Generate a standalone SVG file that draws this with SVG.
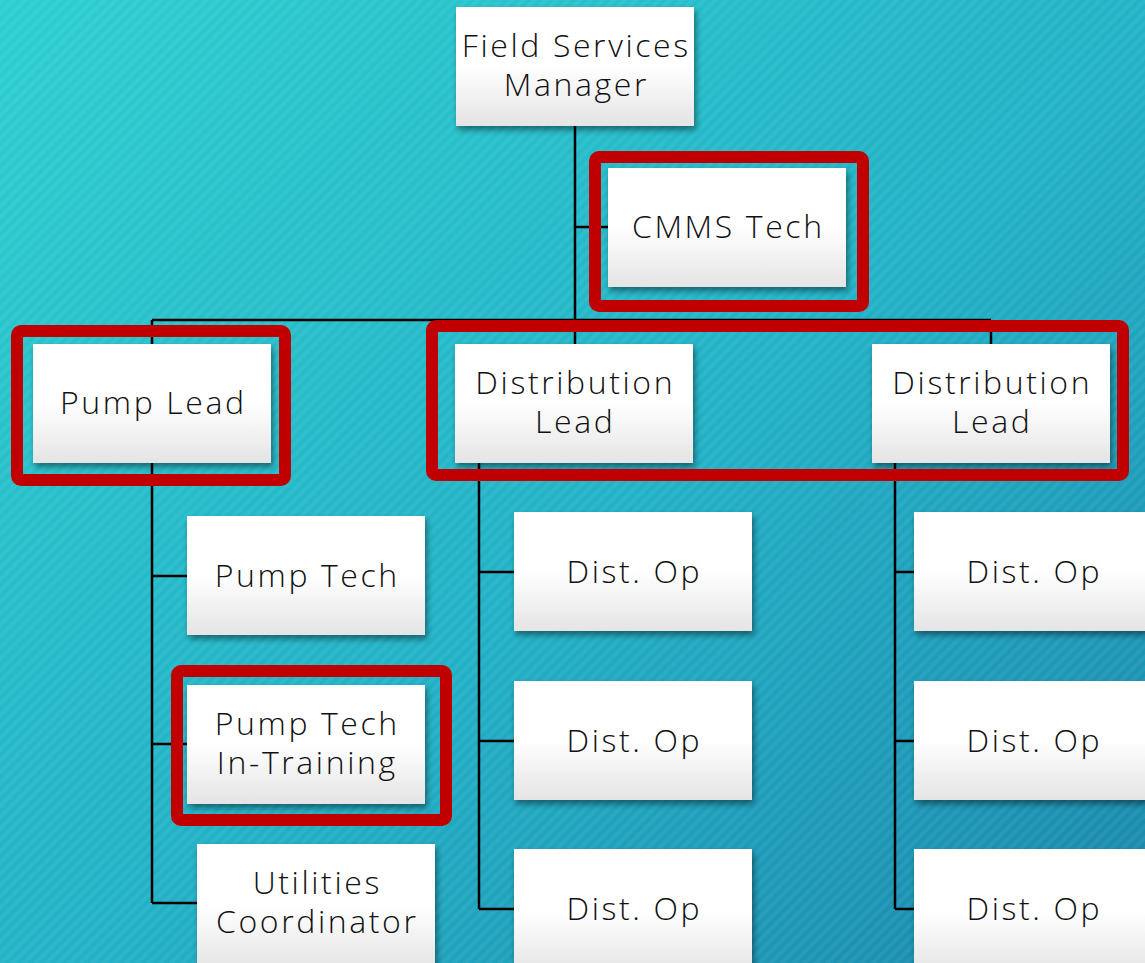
<svg xmlns="http://www.w3.org/2000/svg" width="1145" height="963" viewBox="0 0 1145 963">
  <defs>
    <linearGradient id="bg" x1="0" y1="0" x2="1" y2="1">
      <stop offset="0" stop-color="#2dcfcf"/>
      <stop offset="0.55" stop-color="#22b0c6"/>
      <stop offset="1" stop-color="#1a86ab"/>
    </linearGradient>
    <pattern id="stripes" width="8" height="8" patternUnits="userSpaceOnUse" patternTransform="rotate(-45)">
      <rect width="8" height="4" fill="#ffffff" opacity="0.05"/>
    </pattern>
    <linearGradient id="box" x1="0" y1="0" x2="0" y2="1">
      <stop offset="0" stop-color="#ffffff"/>
      <stop offset="0.5" stop-color="#ffffff"/>
      <stop offset="1" stop-color="#e4e4e4"/>
    </linearGradient>
    <filter id="shadow" x="-10%" y="-10%" width="125%" height="130%">
      <feGaussianBlur in="SourceAlpha" stdDeviation="3"/>
      <feOffset dx="2" dy="4" result="b"/>
      <feComponentTransfer><feFuncA type="linear" slope="0.45"/></feComponentTransfer>
      <feMerge><feMergeNode/><feMergeNode in="SourceGraphic"/></feMerge>
    </filter>
  </defs>
  <style>
    .node rect { fill: url(#box); filter: url(#shadow); }
    .node text { font-family: "Open Sans", "Liberation Sans", sans-serif; font-weight: 300; font-size: 32px; letter-spacing: 2.6px; fill: #111; text-anchor: middle; }
    .conn { stroke: #000; stroke-width: 2.5; fill: none; }
    .hl { stroke: #c00000; stroke-width: 12; fill: none; }
  </style>

  <rect width="1145" height="963" fill="url(#bg)"/>
  <rect width="1145" height="963" fill="url(#stripes)"/>

  <g id="connectors" class="conn">
    <path d="M575 126 V320"/>
    <path d="M575 227 H608"/>
    <path d="M152 320 H991"/>
    <path d="M152 320 V344 M575 320 V344 M991 320 V344"/>
    <path d="M152 463 V903"/>
    <path d="M152 576 H187 M152 744 H187 M152 903 H197"/>
    <path d="M479 463 V909"/>
    <path d="M479 572 H514 M479 741 H514 M479 909 H514"/>
    <path d="M895 463 V909"/>
    <path d="M895 572 H914 M895 741 H914 M895 909 H914"/>
  </g>

  <!-- labels are nudged right by half the letter-spacing to stay centred -->
  <g id="field-services-manager" class="node">
    <rect x="456" y="7" width="238" height="119"/>
    <text x="576.3" y="57">Field Services</text>
    <text x="576.3" y="96">Manager</text>
  </g>
  <g id="cmms-tech" class="node">
    <rect x="608" y="168" width="238" height="119"/>
    <text x="728.3" y="238">CMMS Tech</text>
  </g>
  <g id="pump-lead" class="node">
    <rect x="33" y="344" width="238" height="119"/>
    <text x="153.3" y="414">Pump Lead</text>
  </g>
  <g id="distribution-lead-1" class="node">
    <rect x="455" y="344" width="238" height="119"/>
    <text x="575.3" y="394">Distribution</text>
    <text x="575.3" y="433">Lead</text>
  </g>
  <g id="distribution-lead-2" class="node">
    <rect x="872" y="344" width="238" height="119"/>
    <text x="992.3" y="394">Distribution</text>
    <text x="992.3" y="433">Lead</text>
  </g>
  <g id="pump-tech" class="node">
    <rect x="187" y="516" width="238" height="119"/>
    <text x="307.3" y="587">Pump Tech</text>
  </g>
  <g id="pump-tech-in-training" class="node">
    <rect x="187" y="685" width="238" height="119"/>
    <text x="307.3" y="735">Pump Tech</text>
    <text x="307.3" y="774">In-Training</text>
  </g>
  <g id="utilities-coordinator" class="node">
    <rect x="197" y="844" width="238" height="125"/>
    <text x="317.3" y="894">Utilities</text>
    <text x="317.3" y="933">Coordinator</text>
  </g>
  <g id="dist-op-1a" class="node">
    <rect x="514" y="512" width="238" height="119"/>
    <text x="634.3" y="583">Dist. Op</text>
  </g>
  <g id="dist-op-1b" class="node">
    <rect x="514" y="681" width="238" height="119"/>
    <text x="634.3" y="752">Dist. Op</text>
  </g>
  <g id="dist-op-1c" class="node">
    <rect x="514" y="849" width="238" height="125"/>
    <text x="634.3" y="920">Dist. Op</text>
  </g>
  <g id="dist-op-2a" class="node">
    <rect x="914" y="512" width="238" height="119"/>
    <text x="1034.3" y="583">Dist. Op</text>
  </g>
  <g id="dist-op-2b" class="node">
    <rect x="914" y="681" width="238" height="119"/>
    <text x="1034.3" y="752">Dist. Op</text>
  </g>
  <g id="dist-op-2c" class="node">
    <rect x="914" y="849" width="238" height="125"/>
    <text x="1034.3" y="920">Dist. Op</text>
  </g>

  <g id="highlights" class="hl">
    <rect x="595" y="157" width="268" height="149" rx="4"/>
    <rect x="17" y="331" width="268" height="149" rx="4"/>
    <rect x="432" y="326" width="691" height="149" rx="4"/>
    <rect x="177" y="671" width="269" height="149" rx="4"/>
  </g>
</svg>
